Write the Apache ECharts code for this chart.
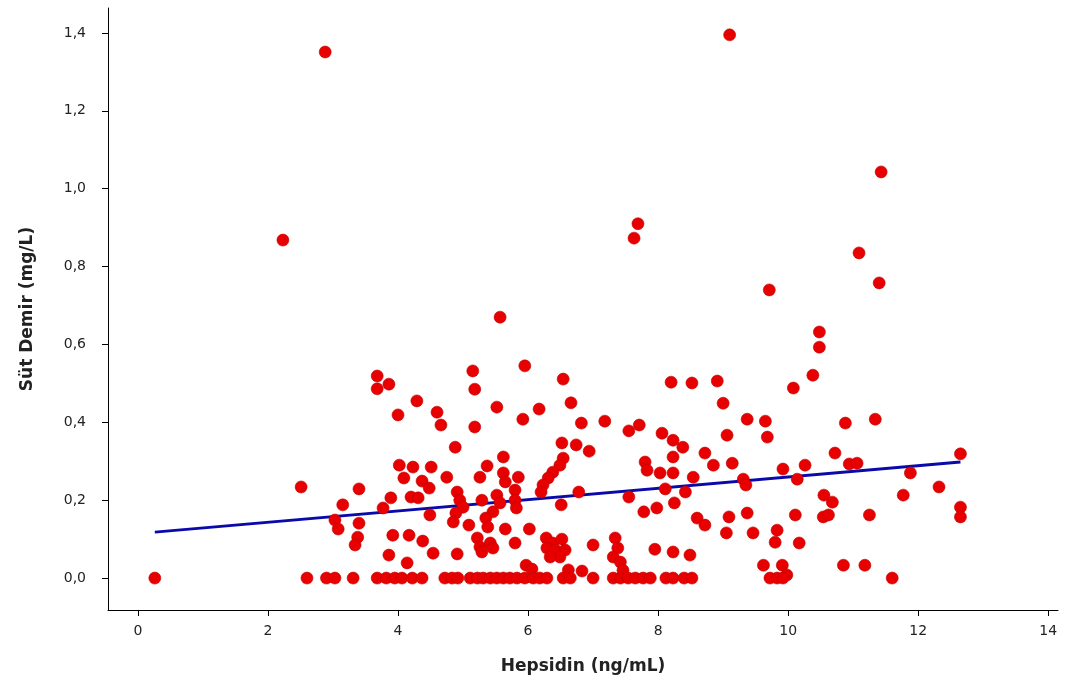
<!DOCTYPE html>
<html>
<head>
<meta charset="utf-8">
<title>Hepsidin - Süt Demir</title>
<script src="https://cdn.jsdelivr.net/npm/echarts@6/dist/echarts.min.js"></script>
<style>
  html, body { margin: 0; padding: 0; background: #fff; }
  #chart { width: 1083px; height: 696px; }
</style>
</head>
<body>
<div id="chart"></div>
<script>
'use strict';

// eksen etiketleri
var xTicks = [0, 2, 4, 6, 8, 10, 12, 14];
var yTicks = [0, 0.2, 0.4, 0.6, 0.8, 1.0, 1.2, 1.4];

// uc degerler [hepsidin, sut demir]
var outlierPoints = [
  [2.88, 1.351], [9.1, 1.395], [2.23, 0.868], [7.69, 0.91], [7.63, 0.873],
  [11.43, 1.043], [11.09, 0.835], [9.71, 0.74], [11.4, 0.758], [5.57, 0.67],
  [10.48, 0.632], [10.48, 0.593]
];

// 0'dan buyuk olcumler
var mainPoints = [
  [3.68, 0.519], [3.86, 0.498], [3.68, 0.486], [4.0, 0.419], [2.51, 0.234], [3.4, 0.229],
  [3.15, 0.188], [3.89, 0.206], [3.77, 0.18], [3.03, 0.149], [3.08, 0.126], [3.4, 0.141],
  [3.38, 0.105], [3.34, 0.085], [3.92, 0.11], [3.86, 0.059],
  [5.15, 0.532], [5.18, 0.485], [5.95, 0.545], [6.54, 0.511], [8.2, 0.503], [4.29, 0.455],
  [4.6, 0.426], [4.66, 0.393], [5.52, 0.439], [5.92, 0.408], [6.17, 0.434], [6.66, 0.45],
  [6.82, 0.398], [7.18, 0.403], [5.18, 0.388], [7.55, 0.378], [7.71, 0.393], [8.06, 0.372],
  [8.23, 0.354], [4.88, 0.336], [6.52, 0.347], [6.74, 0.342], [6.94, 0.326], [5.62, 0.311],
  [8.23, 0.311], [4.02, 0.29], [4.23, 0.285], [4.51, 0.285], [5.37, 0.288], [7.8, 0.298],
  [7.83, 0.277], [4.09, 0.257], [4.75, 0.259], [4.37, 0.249], [4.48, 0.231], [5.26, 0.259],
  [5.62, 0.27], [5.65, 0.247], [5.85, 0.259],
  [6.54, 0.308], [6.49, 0.29], [6.38, 0.272], [6.31, 0.257], [6.23, 0.239], [6.2, 0.221],
  [8.03, 0.27], [8.23, 0.27], [8.11, 0.229], [5.8, 0.226], [6.78, 0.221], [4.2, 0.208],
  [4.31, 0.206], [4.91, 0.221], [4.95, 0.2], [5.0, 0.182], [5.29, 0.2], [5.52, 0.213],
  [5.57, 0.193], [5.8, 0.2], [5.82, 0.18], [7.55, 0.208], [6.51, 0.188], [8.25, 0.193],
  [4.49, 0.162], [4.89, 0.167], [4.85, 0.144], [5.46, 0.17], [5.35, 0.154], [5.38, 0.131],
  [7.78, 0.17], [7.98, 0.18], [5.09, 0.136], [5.65, 0.126], [6.02, 0.126], [4.17, 0.11],
  [4.38, 0.095], [5.22, 0.103], [5.26, 0.08], [5.42, 0.09], [5.46, 0.077], [5.8, 0.09],
  [6.28, 0.103], [6.38, 0.09], [6.52, 0.1], [6.29, 0.077], [6.42, 0.072], [6.57, 0.072],
  [6.49, 0.054], [6.34, 0.054],
  [7.0, 0.085], [7.34, 0.103], [7.38, 0.077], [7.31, 0.054], [7.95, 0.074], [8.23, 0.067],
  [4.14, 0.039], [4.54, 0.064], [4.91, 0.062], [5.29, 0.067], [5.97, 0.033], [6.06, 0.023],
  [6.62, 0.021], [6.83, 0.018], [7.42, 0.041], [7.46, 0.02],
  [10.38, 0.521], [10.08, 0.488], [8.52, 0.501], [8.91, 0.506], [9.0, 0.449], [9.37, 0.408],
  [9.65, 0.403], [9.68, 0.362], [10.88, 0.398], [11.34, 0.408], [9.06, 0.367], [8.38, 0.336],
  [8.72, 0.321], [8.85, 0.29], [9.14, 0.295], [10.72, 0.321], [10.94, 0.293], [11.06, 0.295],
  [10.26, 0.29], [9.92, 0.28], [8.54, 0.259], [9.31, 0.254], [9.35, 0.239], [10.14, 0.254],
  [11.88, 0.27], [8.42, 0.221], [12.32, 0.234], [11.77, 0.213], [10.55, 0.213], [10.68, 0.195],
  [12.65, 0.319], [8.6, 0.154], [8.72, 0.136], [9.09, 0.157], [9.37, 0.167], [10.11, 0.162],
  [10.54, 0.157], [10.62, 0.162], [11.25, 0.162], [12.65, 0.182], [12.65, 0.157], [9.05, 0.116],
  [9.46, 0.116], [9.83, 0.123], [9.8, 0.092], [10.17, 0.09], [8.49, 0.059], [9.62, 0.033],
  [9.91, 0.033], [10.85, 0.033], [11.18, 0.033], [9.98, 0.008]
];

// sut demiri 0 olan olcumlerin hepsidin degerleri
var zeroX = [
  0.26, 2.6, 2.9, 3.03, 3.31, 3.68, 3.82, 3.95,
  4.06, 4.22, 4.37, 4.72, 4.83, 4.92, 5.11, 5.22, 5.31, 5.42, 5.52, 5.62, 5.72, 5.83,
  5.95, 6.08, 6.18, 6.29, 6.54, 6.65, 7.0, 7.31, 7.42, 7.54, 7.65, 7.77, 7.88,
  8.12, 8.23, 8.4, 8.52, 9.72, 9.83, 9.92, 11.6
];

// regresyon dogrusu
var fitX = [0.26, 12.65];
var fitY = [0.118, 0.298];

var scatterData = outlierPoints.concat(mainPoints);
zeroX.forEach(function (x) {
  scatterData.push([x, 0]);
});

var fitData = fitX.map(function (x, i) {
  return [x, fitY[i]];
});

var labelFont = {
  fontFamily: 'DejaVu Sans',
  fontSize: 14,
  color: '#222',
};

var nameFont = {
  fontFamily: 'DejaVu Sans',
  fontWeight: 'bold',
  fontSize: 17,
  color: '#222',
};

var myChart = echarts.init(document.getElementById('chart'));
myChart.setOption({
  backgroundColor: '#fff',
  animation: false,
  grid: {
    left: 108,
    right: 25,
    top: 8,
    bottom: 86,
  },
  xAxis: {
    type: 'value',
    min: -0.46,
    max: 14.15,
    name: 'Hepsidin (ng/mL)',
    nameLocation: 'middle',
    nameGap: 48,
    nameTextStyle: nameFont,
    axisLine: { onZero: false, lineStyle: { color: '#000', width: 1 } },
    axisTick: { customValues: xTicks, length: 6, lineStyle: { color: '#000' } },
    axisLabel: Object.assign({ customValues: xTicks, margin: 14 }, labelFont),
    splitLine: { show: false },
  },
  yAxis: {
    type: 'value',
    min: -0.082,
    max: 1.464,
    name: 'Süt Demir (mg/L)',
    nameLocation: 'middle',
    nameGap: 72,
    nameTextStyle: nameFont,
    axisLine: { show: true, onZero: false, lineStyle: { color: '#000', width: 1 } },
    axisTick: { show: true, customValues: yTicks, length: 6, lineStyle: { color: '#000' } },
    axisLabel: Object.assign({
      customValues: yTicks,
      margin: 22,
      formatter: function (v) {
        return v.toFixed(1).replace('.', ',');
      },
    }, labelFont),
    splitLine: { show: false },
  },
  series: [{
    type: 'line',
    data: fitData,
    symbol: 'none',
    z: 1,
    lineStyle: { color: '#0a0aaa', width: 3 },
  }, {
    type: 'scatter',
    data: scatterData,
    symbolSize: 12,
    z: 2,
    itemStyle: {
      color: '#e80000',
      borderColor: '#c00000',
      borderWidth: 0.6,
      opacity: 1,
    },
  }, ],
});
</script>
</body>
</html>
